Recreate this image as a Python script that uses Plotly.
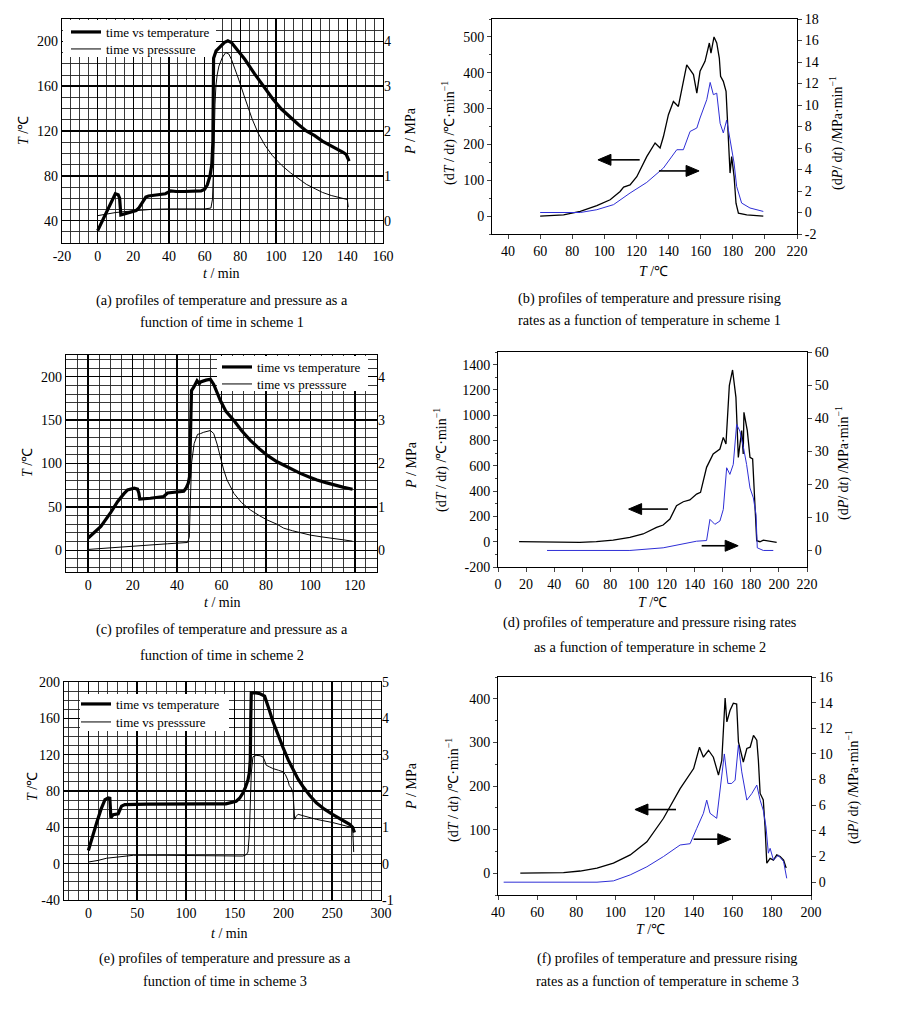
import plotly.graph_objects as go

W, H = 907, 1017

# ---------------- data ----------------
# (a) scheme 1: time vs temperature / pressure
A_T_TIME = [0, 2, 5, 8, 9.9, 11.5, 12.3, 13, 15, 18, 21.6, 23, 25, 27, 28.5, 32, 35, 38, 41, 44, 48.6,
            53, 58, 60, 61.5, 63, 64, 64.6, 65, 66.4, 69, 71, 73, 75, 78, 82.5, 88, 93.6, 98, 103, 108,
            112.4, 117, 121.7, 126, 131, 135, 137.6, 139.4, 140.4, 141]
A_T_VAL = [31, 38, 48, 58, 64, 63, 60, 45, 46, 47.5, 49, 51, 56, 61, 62, 63, 63.6, 64, 66.5, 66, 66,
           66.5, 66.5, 68, 72, 80, 90, 110, 185, 191.5, 196, 199, 200.5, 199, 193, 184, 171, 159, 149,
           139.6, 132, 126, 120, 115.8, 111, 107, 103, 101, 99, 96, 93]
A_P_TIME = [0, 5, 10, 15, 20, 25, 30, 40, 50, 60, 63.5, 64.4, 65, 65.3, 65.8, 66.3, 67, 68, 70, 71.8,
            73.5, 75, 77, 79, 82, 86.6, 90, 94, 98, 103.3, 108, 112.7, 117, 122, 126, 131, 135, 139,
            140, 140.5]
A_P_VAL = [0.11, 0.15, 0.18, 0.2, 0.22, 0.24, 0.25, 0.26, 0.26, 0.26, 0.28, 0.48, 1.2, 1.97, 2.6, 3.0,
           3.25, 3.45, 3.65, 3.75, 3.72, 3.6, 3.4, 3.16, 2.8, 2.27, 1.95, 1.67, 1.45, 1.23, 1.07, 0.93,
           0.81, 0.71, 0.63, 0.56, 0.52, 0.49, 0.47, 0.3]

# (b) scheme 1: rising rates vs temperature
B_DT_TEMP = [60, 74.6, 85, 95.3, 103.6, 109.8, 112, 116, 120.2, 126.4, 131.6, 134.7, 136.8, 139.9, 143,
             146.1, 151.3, 155.5, 157.6, 159.6, 162.7, 165.4, 166.4, 168.3, 170, 171.6, 172.4, 174.1,
             175.8, 177.2, 178.3, 179.3, 180.8, 182, 183.5, 188.7, 199]
B_DT_VAL = [0, 3.6, 13, 29, 45.6, 68.7, 81, 87, 110, 166, 204, 190, 222, 283, 320, 306, 422, 395, 343,
            404, 432, 483, 455, 500, 483, 441, 390, 376, 348, 204, 120, 166, 111, 36, 8, 3.6, 0]
B_DP_TEMP = [60, 85, 95.3, 105.7, 116, 126.4, 136.8, 145.1, 149.2, 153.4, 157.6, 159.6, 163.8, 165.9,
             167.9, 170, 172.1, 174.1, 176.2, 178.3, 179.3, 180.8, 182.4, 185.5, 190.7, 199]
B_DP_VAL = [0, 0, 0.26, 0.73, 1.81, 2.8, 4.14, 5.84, 5.84, 7.54, 7.86, 8.79, 10.5, 12.1, 10.96, 11.1,
            8.3, 7.4, 8.6, 6.8, 6.15, 4.6, 2.43, 0.88, 0.42, 0.1]

# (c) scheme 2: time vs temperature / pressure
C_T_TIME = [0, 5.7, 10, 13.2, 16, 17.7, 20.7, 22.2, 22.8, 23.2, 28, 32, 34, 35.7, 38, 41.7, 43, 44, 45,
            45.6, 46, 46.5, 47.5, 49, 50, 50.6, 53, 55, 56.5, 59.5, 62, 65.6, 69, 73, 77, 80.5, 85, 88,
            92, 95.5, 100, 103, 107, 110.7, 115, 119]
C_T_VAL = [14.2, 27.5, 43, 56, 65, 69.5, 71.5, 70.5, 66, 59, 60, 61.5, 62, 66, 66.5, 67, 68, 71.4, 77,
           84.7, 120, 184, 188, 195.4, 192, 194, 196, 197, 191, 172.5, 160, 149.6, 138, 126.7, 117,
           109.6, 102, 98, 93, 88.6, 84, 81, 78, 75.2, 72.5, 70.3]
C_P_TIME = [0, 10, 20.7, 30, 35.7, 40, 44.7, 45.5, 46, 46.5, 47.7, 49.2, 50.6, 52, 55, 56.5, 58, 59.5,
            61, 62.5, 65.6, 69, 73, 77, 80.5, 85, 88, 92, 95.5, 100, 105, 110.7, 115, 119]
C_P_VAL = [0.02, 0.06, 0.11, 0.13, 0.15, 0.16, 0.18, 0.3, 1.0, 2.0, 2.46, 2.67, 2.69, 2.72, 2.76, 2.69,
           2.45, 2.15, 1.85, 1.62, 1.31, 1.1, 0.93, 0.8, 0.7, 0.6, 0.51, 0.45, 0.4, 0.35, 0.31, 0.28,
           0.24, 0.21]

# (d) scheme 2: rising rates vs temperature
D_DT_TEMP = [15, 58.2, 70, 82, 93.9, 103.3, 112.9, 117.6, 122.4, 127.1, 131.9, 136.6, 141.4, 144.2,
             148.5, 153.2, 158, 160.4, 162.3, 164.7, 167, 169.4, 171.1, 173.5, 174.6, 175.1, 177.5,
             179.4, 181.3, 183, 184.2, 186.5, 188.9, 198.4]
D_DT_VAL = [0, -5, 0, 13, 34, 61, 113, 132, 179, 285, 316, 330, 377, 390, 588, 694, 733, 825, 773, 1234,
            1358, 1141, 667, 878, 694, 1023, 878, 667, 654, 245, 8, 0, 13, -5]
D_DP_TEMP = [34.9, 93.9, 117.6, 129.5, 141.4, 148.5, 150.9, 154.4, 158, 160.4, 162.8, 165.1, 167.5,
             169.9, 172.2, 174.6, 177, 179.4, 181.8, 183.7, 184.6, 188.9, 196]
D_DP_VAL = [0, 0, 0.8, 1.8, 2.8, 3, 9.4, 7.9, 8.9, 12.4, 25, 23, 26, 38.1, 36.1, 31.5, 26, 18.9, 15.9,
            10.9, 0.8, 0, 0]

# (e) scheme 3: time vs temperature / pressure
E_T_TIME = [0, 4, 8.5, 13, 17, 20.4, 22, 22.6, 23, 25.5, 30.6, 34, 37.4, 60, 80, 100, 120, 141, 151.5,
            155, 158.4, 161, 163.6, 165, 166, 166.5, 167, 172, 176, 180.7, 183, 185.8, 189, 192.7, 196,
            199.5, 205, 209.8, 215, 220, 227, 233.7, 242, 250.7, 259, 267.8, 271, 272.8]
E_T_VAL = [14.5, 30, 45, 60, 70.5, 72.3, 72, 60, 50.6, 54, 55, 63.3, 65.1, 65.5, 65.8, 65.8, 65.8, 65.8,
           68.7, 72, 77.8, 84, 92, 100, 114, 160, 188, 188, 187, 184.4, 178, 168, 157, 146.5, 137, 128,
           114, 103, 93, 85, 75, 67, 60, 54, 48.5, 43.4, 40, 34.4]
E_P_TIME = [0, 5, 10, 18.7, 30, 46, 80, 120, 158.4, 162, 163.6, 165, 166, 167, 168.7, 172, 176, 178.9,
            180.5, 182.3, 186, 189, 195, 199.5, 202, 204.5, 206, 208, 209.8, 210.5, 211.5, 213, 215,
            220, 233.7, 250.7, 260, 269.5, 271, 272]
E_P_VAL = [0.045, 0.06, 0.09, 0.15, 0.19, 0.23, 0.23, 0.22, 0.21, 0.25, 0.32, 0.8, 1.76, 2.5, 2.94,
           2.98, 2.97, 2.94, 2.85, 2.71, 2.66, 2.62, 2.57, 2.53, 2.45, 2.3, 2.15, 2.08, 1.95, 1.6, 1.22,
           1.3, 1.36, 1.32, 1.22, 1.13, 1.07, 1.0, 0.95, 0.32]

# (f) scheme 3: rising rates vs temperature
F_DT_TEMP = [51.4, 73.5, 82, 90.6, 99, 107.6, 116.1, 124.6, 133.1, 140, 143, 145, 147.6, 150.1, 152.7,
             154.4, 156.1, 157, 158.6, 160.3, 162, 162.9, 165.4, 167.2, 168.9, 170.6, 172.3, 173.1, 174,
             175.6, 176.5, 177.4, 179.1, 180.8, 182.5, 184.2, 186, 187.3]
F_DT_VAL = [0, 1.5, 5, 11.4, 23, 42, 72, 126, 194, 240, 289, 266, 282, 266, 225, 259, 402, 347, 373, 390,
            388, 301, 255, 286, 289, 316, 305, 259, 183, 168, 107, 23, 34, 30, 42, 38, 30, 12]
F_DP_TEMP = [42.9, 90.6, 99, 107.6, 116.1, 124.6, 133.1, 138.2, 141.6, 145, 146.7, 148.4, 151.8, 153.5,
             155.7, 157.5, 159.5, 161.2, 162.9, 164.6, 167.2, 169.7, 172.3, 174, 175.6, 177, 178.2,
             179.1, 180.8, 183.3, 186, 187.6]
F_DP_VAL = [0, 0, 0.1, 0.57, 1.2, 2.0, 2.9, 3.0, 4.2, 5.37, 6.4, 5.37, 4.98, 7.2, 10.0, 7.7, 7.7, 7.96,
            10.7, 8.6, 6.4, 6.9, 7.57, 6.4, 5.6, 4.3, 2.26, 2.64, 1.73, 2.1, 1.6, 0.3]

# tick labels
A_XTICKS = [-20, 0, 20, 40, 60, 80, 100, 120, 140, 160]
A_YTICKS = [40, 80, 120, 160, 200]
A_PTICKS = [0, 1, 2, 3, 4]
B_XTICKS = [40, 60, 80, 100, 120, 140, 160, 180, 200, 220]
B_YTICKS = [0, 100, 200, 300, 400, 500]
B_RTICKS = [-2, 0, 2, 4, 6, 8, 10, 12, 14, 16, 18]
C_XTICKS = [0, 20, 40, 60, 80, 100, 120]
C_YTICKS = [0, 50, 100, 150, 200]
C_PTICKS = [0, 1, 2, 3, 4]
D_XTICKS = [0, 20, 40, 60, 80, 100, 120, 140, 160, 180, 200, 220]
D_YTICKS = [-200, 0, 200, 400, 600, 800, 1000, 1200, 1400]
D_RTICKS = [0, 10, 20, 30, 40, 50, 60]
E_XTICKS = [0, 50, 100, 150, 200, 250, 300]
E_YTICKS = [-40, 0, 40, 80, 120, 160, 200]
E_PTICKS = [-1, 0, 1, 2, 3, 4, 5]
F_XTICKS = [40, 60, 80, 100, 120, 140, 160, 180, 200]
F_YTICKS = [0, 100, 200, 300, 400]
F_RTICKS = [0, 2, 4, 6, 8, 10, 12, 14, 16]

LEG_T = "time vs temperature"
LEG_P = "time vs presssure"

# ---------------- layout helpers ----------------
FONT = "Liberation Serif"
TF = dict(family=FONT, size=14, color="black")

# plot-area pixel boxes (x0, y0, x1, y1)
BOX_A = (62, 19, 383, 243)
BOX_B = (492, 19, 797, 234)
BOX_C = (66, 355, 377, 572)
BOX_D = (498, 352, 807, 567)
BOX_E = (64, 682, 381, 900)
BOX_F = (498, 677, 811, 895)

RNG_A = ([-20, 160], [20, 220])
RNG_B = ([30, 220], [-50, 550])
RNG_C = ([-10, 130], [-25, 225])
RNG_D = ([0, 220], [-200, 1500])
RNG_E = ([-25, 300], [-40, 200])
RNG_F = ([40, 200], [-50, 450])


def dx(b):
    return [b[0] / W, b[2] / W]


def dy(b):
    return [1 - b[3] / H, 1 - b[1] / H]


def tt(v):
    return [str(x) for x in v]


def grid_ax(dom, anchor, rng, ticks, minor):
    return dict(domain=dom, anchor=anchor, range=rng, tickmode="array", tickvals=ticks,
                ticktext=tt(ticks), showgrid=True, gridcolor="black", gridwidth=1.5,
                minor=dict(tickmode="linear", tick0=0, dtick=minor, showgrid=True,
                           gridcolor="#222", gridwidth=0.9),
                ticks="", showline=True, linecolor="black", linewidth=1.2, mirror=True,
                zeroline=False, tickfont=TF)


def sec_y(over, anchor, rng, ticks):
    return dict(overlaying=over, anchor=anchor, side="right", range=rng, tickmode="array",
                tickvals=ticks, ticktext=tt(ticks), showgrid=False, zeroline=False, ticks="",
                tickfont=TF, showline=False)


def box_x(dom, anchor, rng, ticks):
    return dict(domain=dom, anchor=anchor, range=rng, tickmode="array", tickvals=ticks,
                ticktext=tt(ticks), showgrid=False, zeroline=False, ticks="outside", ticklen=4,
                showline=True, linecolor="black", linewidth=1, mirror=True, tickfont=TF)


def box_y(dom, anchor, rng, ticks, minor):
    d = box_x(dom, anchor, rng, ticks)
    d["minor"] = dict(tickmode="linear", tick0=0, dtick=minor, ticks="outside", ticklen=2,
                      showgrid=False)
    return d


def box_r(over, anchor, rng, ticks):
    return dict(overlaying=over, anchor=anchor, side="right", range=rng, tickmode="array",
                tickvals=ticks, ticktext=tt(ticks), showgrid=False, zeroline=False,
                ticks="outside", ticklen=4, showline=True, linecolor="black", linewidth=1,
                tickfont=TF)


fig = go.Figure()

BLUE = "#2e2ed6"
THICK = 3.2
THIN = 1

# (a)
fig.add_trace(go.Scatter(x=A_T_TIME, y=A_T_VAL, mode="lines", name=LEG_T, xaxis="x", yaxis="y",
                         line=dict(color="black", width=THICK), legend="legend"))
fig.add_trace(go.Scatter(x=A_P_TIME, y=A_P_VAL, mode="lines", name=LEG_P, xaxis="x", yaxis="y2",
                         line=dict(color="black", width=THIN), legend="legend2"))
# (b)
fig.add_trace(go.Scatter(x=B_DT_TEMP, y=B_DT_VAL, mode="lines", xaxis="x2", yaxis="y3",
                         line=dict(color="black", width=1.3), showlegend=False))
fig.add_trace(go.Scatter(x=B_DP_TEMP, y=B_DP_VAL, mode="lines", xaxis="x2", yaxis="y4",
                         line=dict(color=BLUE, width=1), showlegend=False))
# (c)
fig.add_trace(go.Scatter(x=C_T_TIME, y=C_T_VAL, mode="lines", name=LEG_T, xaxis="x3", yaxis="y5",
                         line=dict(color="black", width=THICK), legend="legend3"))
fig.add_trace(go.Scatter(x=C_P_TIME, y=C_P_VAL, mode="lines", name=LEG_P, xaxis="x3", yaxis="y6",
                         line=dict(color="black", width=THIN), legend="legend4"))
# (d)
fig.add_trace(go.Scatter(x=D_DT_TEMP, y=D_DT_VAL, mode="lines", xaxis="x4", yaxis="y7",
                         line=dict(color="black", width=1.3), showlegend=False))
fig.add_trace(go.Scatter(x=D_DP_TEMP, y=D_DP_VAL, mode="lines", xaxis="x4", yaxis="y8",
                         line=dict(color=BLUE, width=1), showlegend=False))
# (e)
fig.add_trace(go.Scatter(x=E_T_TIME, y=E_T_VAL, mode="lines", name=LEG_T, xaxis="x5", yaxis="y9",
                         line=dict(color="black", width=THICK), legend="legend5"))
fig.add_trace(go.Scatter(x=E_P_TIME, y=E_P_VAL, mode="lines", name=LEG_P, xaxis="x5", yaxis="y10",
                         line=dict(color="black", width=THIN), legend="legend6"))
# (f)
fig.add_trace(go.Scatter(x=F_DT_TEMP, y=F_DT_VAL, mode="lines", xaxis="x6", yaxis="y11",
                         line=dict(color="black", width=1.3), showlegend=False))
fig.add_trace(go.Scatter(x=F_DP_TEMP, y=F_DP_VAL, mode="lines", xaxis="x6", yaxis="y12",
                         line=dict(color=BLUE, width=1), showlegend=False))

LEGFONT = dict(family=FONT, size=13, color="black")


def legend_at(px, row_y):
    # legend with one entry whose row is centred near row_y (pixels)
    return dict(x=px / W, y=1 - (row_y - 15) / H, xanchor="left", yanchor="top",
                bgcolor="rgba(0,0,0,0)", borderwidth=0, font=LEGFONT, itemwidth=30,
                itemsizing="trace")


layout = dict(
    width=W, height=H, margin=dict(l=0, r=0, t=0, b=0, autoexpand=False),
    paper_bgcolor="white", plot_bgcolor="white", font=TF, showlegend=True,
    xaxis=grid_ax(dx(BOX_A), "y", RNG_A[0], A_XTICKS, 5),
    yaxis=grid_ax(dy(BOX_A), "x", RNG_A[1], A_YTICKS, 10),
    yaxis2=sec_y("y", "x", [-0.5, 4.5], A_PTICKS),
    xaxis2=box_x(dx(BOX_B), "y3", RNG_B[0], B_XTICKS),
    yaxis3=box_y(dy(BOX_B), "x2", RNG_B[1], B_YTICKS, 50),
    yaxis4=box_r("y3", "x2", [-2, 18], B_RTICKS),
    xaxis3=grid_ax(dx(BOX_C), "y5", RNG_C[0], C_XTICKS, 5),
    yaxis5=grid_ax(dy(BOX_C), "x3", RNG_C[1], C_YTICKS, 10),
    yaxis6=sec_y("y5", "x3", [-0.5, 4.5], C_PTICKS),
    xaxis4=box_x(dx(BOX_D), "y7", RNG_D[0], D_XTICKS),
    yaxis7=box_y(dy(BOX_D), "x4", RNG_D[1], D_YTICKS, 100),
    yaxis8=box_r("y7", "x4", [-5, 60], D_RTICKS),
    xaxis5=grid_ax(dx(BOX_E), "y9", RNG_E[0], E_XTICKS, 10),
    yaxis9=grid_ax(dy(BOX_E), "x5", RNG_E[1], E_YTICKS, 10),
    yaxis10=sec_y("y9", "x5", [-1, 5], E_PTICKS),
    xaxis6=box_x(dx(BOX_F), "y11", RNG_F[0], F_XTICKS),
    yaxis11=box_y(dy(BOX_F), "x6", RNG_F[1], F_YTICKS, 50),
    yaxis12=box_r("y11", "x6", [-1, 16], F_RTICKS),
    legend=legend_at(66, 32),
    legend2=legend_at(66, 49),
    legend3=legend_at(217, 367),
    legend4=legend_at(217, 384),
    legend5=legend_at(76, 704),
    legend6=legend_at(76, 722),
)
fig.update_layout(**layout)


def px_to_data(box, rng, px, py):
    x = rng[0][0] + (px - box[0]) / (box[2] - box[0]) * (rng[0][1] - rng[0][0])
    y = rng[1][0] + (box[3] - py) / (box[3] - box[1]) * (rng[1][1] - rng[1][0])
    return x, y


# white boxes hiding the grid behind each legend (between grid and traces)
def legend_box(box, rng, xr, yr, x0p, y0p, x1p, y1p):
    x0, y0 = px_to_data(box, rng, x0p, y0p)
    x1, y1 = px_to_data(box, rng, x1p, y1p)
    fig.add_shape(type="rect", xref=xr, yref=yr, x0=x0, x1=x1, y0=y0, y1=y1,
                  fillcolor="white", line=dict(width=0), layer="between")


legend_box(BOX_A, RNG_A, "x", "y", 63, 20, 216, 57)
legend_box(BOX_C, RNG_C, "x3", "y5", 217, 356, 368, 391)
legend_box(BOX_E, RNG_E, "x5", "y9", 80, 694, 229, 731)


# horizontal arrows (shaft + filled triangular head) drawn as shapes in data coordinates
def arrow(box, rng, xr, yr, x_head, x_tail, y):
    upx = (rng[0][1] - rng[0][0]) / (box[2] - box[0])
    upy = (rng[1][1] - rng[1][0]) / (box[3] - box[1])
    sgn = 1 if x_tail > x_head else -1
    head_len, half = 13 * upx, 5.5 * upy
    base = x_head + sgn * head_len
    fig.add_shape(type="line", xref=xr, yref=yr, x0=x_tail, x1=base, y0=y, y1=y,
                  line=dict(color="black", width=1.6))
    fig.add_shape(type="path", xref=xr, yref=yr,
                  path=f"M {x_head},{y} L {base},{y + half} L {base},{y - half} Z",
                  fillcolor="black", line=dict(color="black", width=1))


arrow(BOX_B, RNG_B, "x2", "y3", 96, 122, 157)
arrow(BOX_B, RNG_B, "x2", "y3", 159, 134, 126)
arrow(BOX_D, RNG_D, "x4", "y7", 93, 121, 258)
arrow(BOX_D, RNG_D, "x4", "y7", 171, 145, -32)
arrow(BOX_F, RNG_F, "x6", "y11", 110, 131, 146)
arrow(BOX_F, RNG_F, "x6", "y11", 159, 140, 78)

ann = []


def text_at(px, py, s, angle=0, size=14):
    ann.append(dict(x=px / W, y=1 - py / H, xref="paper", yref="paper", text=s, showarrow=False,
                    textangle=angle, xanchor="center", yanchor="middle",
                    font=dict(family=FONT, size=size, color="black")))


T_LAB = "<i>T</i> /℃"
P_LAB = "<i>P</i> / MPa"
t_LAB = "<i>t</i> / min"
DT_LAB = "(d<i>T</i> / d<i>t</i>) /℃·min<sup>−1</sup>"
DP_LAB = "(d<i>P</i>/ d<i>t</i>) /MPa·min<sup>−1</sup>"
CS = 14.3

# (a)
text_at(24, 131, T_LAB, -90)
text_at(411, 131, P_LAB, -90)
text_at(221, 273, t_LAB)
text_at(222, 301, "(a) profiles of temperature and pressure as a", size=CS)
text_at(222, 322, "function of time in scheme 1", size=CS)
# (b)
text_at(448, 133, DT_LAB, -90)
text_at(836, 133, DP_LAB, -90)
text_at(653, 272, T_LAB)
text_at(649, 298, "(b) profiles of temperature and pressure rising", size=CS)
text_at(649, 320, "rates as a function of temperature in scheme 1", size=CS)
# (c)
text_at(28, 463, T_LAB, -90)
text_at(411, 465, P_LAB, -90)
text_at(222, 602, t_LAB)
text_at(222, 629, "(c) profiles of temperature and pressure as a", size=CS)
text_at(222, 655, "function of time in scheme 2", size=CS)
# (d)
text_at(440, 460, DT_LAB, -90)
text_at(843, 463, DP_LAB, -90)
text_at(652, 602, T_LAB)
text_at(650, 622, "(d) profiles of temperature and pressure rising rates", size=CS)
text_at(650, 647, "as a function of temperature in scheme 2", size=CS)
# (e)
text_at(32, 787, T_LAB, -90)
text_at(411, 786, P_LAB, -90)
text_at(230, 933, t_LAB)
text_at(225, 958, "(e) profiles of temperature and pressure as a", size=CS)
text_at(225, 981, "function of time in scheme 3", size=CS)
# (f)
text_at(452, 790, DT_LAB, -90)
text_at(852, 787, DP_LAB, -90)
text_at(650, 929, T_LAB)
text_at(667, 958, "(f) profiles of temperature and pressure rising", size=CS)
text_at(667, 981, "rates as a function of temperature in scheme 3", size=CS)

fig.update_layout(annotations=ann)
fig.write_html(
    "out.html",
    config={"displayModeBar": False, "staticPlot": True},
    post_script="document.body.style.margin='0px';document.body.style.padding='0px';"
                "document.documentElement.style.overflow='hidden';",
)
